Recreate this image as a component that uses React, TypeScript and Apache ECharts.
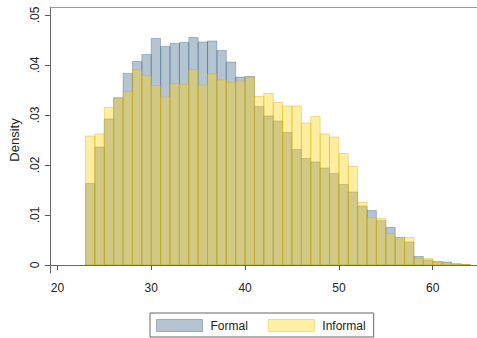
import React, { useEffect, useRef } from "react";
import * as echarts from "echarts";

// Age bins (lower edge), width 1 year
const AGES: number[] = [
  23, 24, 25, 26, 27, 28, 29, 30, 31, 32, 33, 34, 35, 36, 37, 38, 39, 40, 41, 42, 43,
  44, 45, 46, 47, 48, 49, 50, 51, 52, 53, 54, 55, 56, 57, 58, 59, 60, 61, 62, 63,
];
const BIN_WIDTH = 1;

const FORMAL: number[] = [
  0.0163, 0.0236, 0.0292, 0.0334, 0.0383, 0.0407, 0.0421, 0.0453, 0.0437, 0.0443, 0.0445,
  0.0455, 0.0446, 0.0448, 0.0429, 0.0406, 0.0376, 0.0377, 0.0317, 0.0298, 0.0288, 0.0265,
  0.0231, 0.0213, 0.0206, 0.0194, 0.0183, 0.0161, 0.0146, 0.0118, 0.0109, 0.0089, 0.0075,
  0.0055, 0.0046, 0.0017, 0.001, 0.0007, 0.0006, 0.0002, 0.0001,
];

const INFORMAL: number[] = [
  0.0258, 0.0262, 0.0315, 0.0335, 0.0347, 0.039, 0.0379, 0.0359, 0.0336, 0.0363, 0.0361,
  0.0391, 0.036, 0.0382, 0.037, 0.0365, 0.0368, 0.0376, 0.0337, 0.0343, 0.0325, 0.0318,
  0.0318, 0.0284, 0.0297, 0.0262, 0.0256, 0.0223, 0.0197, 0.0125, 0.0095, 0.0093, 0.0063,
  0.0055, 0.0055, 0.0013, 0.0013, 0.0006, 0.0004, 0.0003, 0.0001,
];

const X_TICKS: number[] = [20, 30, 40, 50, 60];
const Y_TICKS: number[] = [0, 0.01, 0.02, 0.03, 0.04, 0.05];

const FONT = "'Liberation Sans', Arial, Helvetica, sans-serif";

const FORMAL_FILL = "rgba(26,71,111,0.32)";
const FORMAL_EDGE = "rgba(26,71,111,0.30)";
const INFORMAL_FILL = "rgba(255,212,17,0.40)";
const INFORMAL_EDGE = "rgba(215,175,0,0.40)";

function histSeries(name: string, values: number[], fill: string, edge: string) {
  return {
    type: "custom" as const,
    name,
    data: AGES.map((a, i) => [a, values[i]]),
    encode: { x: 0, y: 1 },
    itemStyle: { color: fill, borderColor: edge },
    renderItem: (_params: any, api: any) => {
      const x0 = api.value(0);
      const v = api.value(1);
      const topLeft = api.coord([x0, v]);
      const bottomRight = api.coord([x0 + BIN_WIDTH, 0]);
      return {
        type: "rect",
        shape: {
          x: topLeft[0],
          y: topLeft[1],
          width: bottomRight[0] - topLeft[0],
          height: bottomRight[1] - topLeft[1],
        },
        style: { fill, stroke: edge, lineWidth: 1 },
      };
    },
  };
}

export default function App() {
  const ref = useRef<HTMLDivElement>(null);

  useEffect(() => {
    document.body.style.margin = "0";
    if (!ref.current) return;
    const chart = echarts.init(ref.current, null, { renderer: "svg" });

    const xMin = 19.2;
    const xMax = 64.72;
    const yMin = -0.0016;
    const yMax = 0.0516;

    chart.setOption({
      animation: false,
      backgroundColor: "#ffffff",
      grid: { left: 46, right: 0, top: 7, bottom: 65 },
      legend: {
        left: 150,
        top: 313,
        icon: "rect",
        itemWidth: 46,
        itemHeight: 12,
        itemGap: 20,
        padding: [6, 8, 5, 6],
        borderColor: "#666",
        borderWidth: 1,
        textStyle: { fontFamily: FONT, fontSize: 12, color: "#222", padding: [0, 0, 0, 3] },
        data: [
          { name: "Formal", itemStyle: { color: "#b6c4d2", borderColor: "#98aabd", borderWidth: 1 } },
          { name: "Informal", itemStyle: { color: "#fff0a4", borderColor: "#f5df78", borderWidth: 1 } },
        ],
      },
      xAxis: [
        {
          type: "value",
          min: xMin,
          max: xMax,
          splitLine: { show: false },
          axisLine: { show: true, lineStyle: { color: "#666", width: 1 } },
          axisTick: { show: true, length: 5, lineStyle: { color: "#555" }, customValues: X_TICKS },
          axisLabel: {
            customValues: X_TICKS,
            margin: 9,
            fontFamily: FONT,
            fontSize: 12,
            color: "#222",
          },
        },
        {
          type: "value",
          position: "top",
          min: xMin,
          max: xMax,
          splitLine: { show: false },
          axisLine: { show: true, lineStyle: { color: "#999", width: 1 } },
          axisTick: { show: false },
          axisLabel: { show: false },
        },
      ],
      yAxis: {
        type: "value",
        min: yMin,
        max: yMax,
        name: "Density",
        nameLocation: "middle",
        nameGap: 23,
        nameTextStyle: { fontFamily: FONT, fontSize: 13, color: "#222" },
        splitLine: { show: false },
        axisLine: { show: true, lineStyle: { color: "#666", width: 1 } },
        axisTick: { show: true, length: 5, lineStyle: { color: "#555" }, customValues: Y_TICKS },
        axisLabel: {
          customValues: Y_TICKS,
          rotate: 90,
          align: "center",
          verticalAlign: "bottom",
          margin: 9,
          fontFamily: FONT,
          fontSize: 12,
          color: "#222",
          formatter: (v: number) => (v === 0 ? "0" : String(+v.toFixed(2)).replace(/^0/, "")),
        },
      },
      series: [
        histSeries("Formal", FORMAL, FORMAL_FILL, FORMAL_EDGE),
        histSeries("Informal", INFORMAL, INFORMAL_FILL, INFORMAL_EDGE),
      ],
    });

    return () => chart.dispose();
  }, []);

  return <div ref={ref} style={{ width: 477, height: 338 }} />;
}
